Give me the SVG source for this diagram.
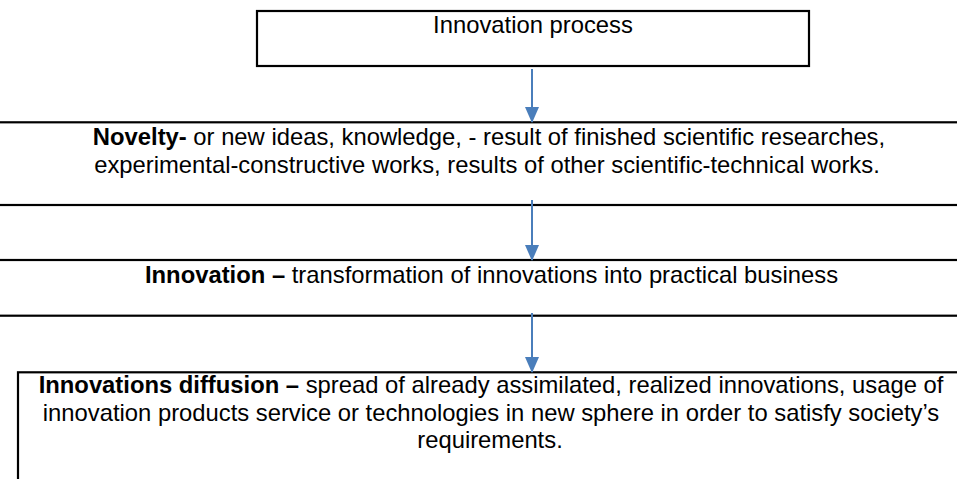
<svg xmlns="http://www.w3.org/2000/svg" width="957" height="479" viewBox="0 0 957 479">
  <style>
    .box { fill: #ffffff; stroke: #000000; stroke-width: 2.2; }
    .txt { font-family: "Liberation Sans", Arial, sans-serif; font-size: 23.8px; fill: #000000; text-anchor: middle; }
    .b { font-weight: bold; }
    .link { stroke: #4a7ebb; stroke-width: 2; fill: none; }
  </style>
  <defs>
    <marker id="arrow" viewBox="0 0 16 14" refX="15" refY="7" markerWidth="16" markerHeight="14" markerUnits="userSpaceOnUse" orient="auto">
      <path d="M0,0 L16,7 L0,14 Z" fill="#4a7ebb"/>
    </marker>
  </defs>
  <rect width="957" height="479" fill="#ffffff"/>

  <g id="process">
    <rect class="box" x="257" y="11" width="552" height="55"/>
    <text class="txt" x="533" y="33">Innovation process</text>
  </g>

  <g id="novelty">
    <rect class="box" x="-20" y="122.3" width="1000" height="82.7"/>
    <text class="txt" x="489" y="145"><tspan class="b">Novelty-</tspan> or new ideas, knowledge, - result of finished scientific researches,</text>
    <text class="txt" x="487" y="172.5">experimental-constructive works, results of other scientific-technical works.</text>
  </g>

  <g id="innovation">
    <rect class="box" x="-20" y="260" width="1000" height="55.7"/>
    <text class="txt" x="491.5" y="282.5"><tspan class="b">Innovation –</tspan> transformation of innovations into practical business</text>
  </g>

  <g id="diffusion">
    <rect class="box" x="18" y="372.3" width="960" height="130"/>
    <text class="txt" x="491" y="393"><tspan class="b">Innovations diffusion –</tspan> spread of already assimilated, realized innovations, usage of</text>
    <text class="txt" x="491" y="420.5">innovation products service or technologies in new sphere in order to satisfy society’s</text>
    <text class="txt" x="490" y="448">requirements.</text>
  </g>

  <g id="connectors">
    <line class="link" x1="532" y1="69" x2="532" y2="122" marker-end="url(#arrow)"/>
    <line class="link" x1="532" y1="200" x2="532" y2="260" marker-end="url(#arrow)"/>
    <line class="link" x1="532" y1="313" x2="532" y2="372" marker-end="url(#arrow)"/>
  </g>
</svg>
